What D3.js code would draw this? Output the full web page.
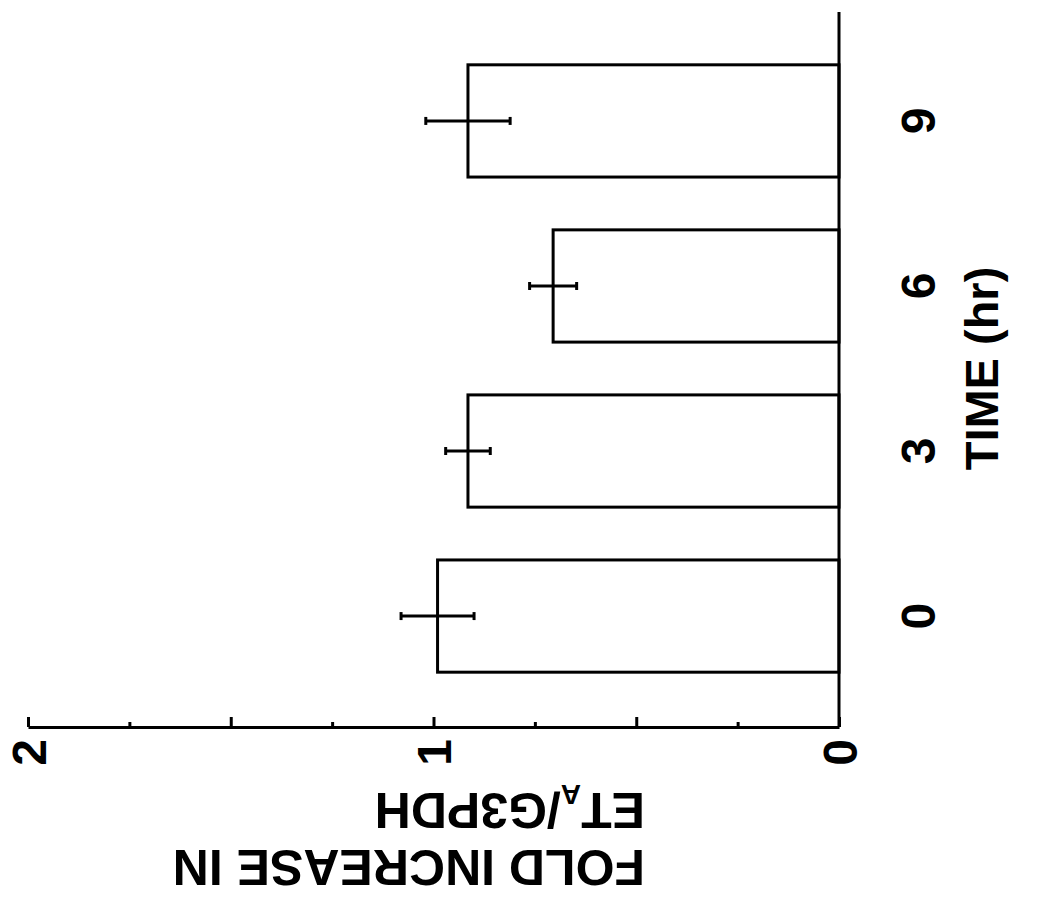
<!DOCTYPE html>
<html>
<head>
<meta charset="utf-8">
<script src="https://cdn.jsdelivr.net/npm/d3@7"></script>
<style>
  body { margin: 0; background: white; }
  text { font-family: "Liberation Sans", Arial, sans-serif; font-weight: bold; }
</style>
</head>
<body>
<div id="vis"></div>
<script>
const categories = ["0", "3", "6", "9"];
const foldValues = [0.99, 0.915, 0.705, 0.915];
const errValues = [0.09, 0.055, 0.058, 0.104];
const majorTicks = [0, 0.5, 1, 1.5, 2];
const minorTicks = [0.25, 0.75, 1.25, 1.75];

// the figure is printed turned on its side: value axis runs right-to-left along the bottom
function createChart() {
  const width = 1052;
  const height = 900;

  const svg = d3.select("#vis")
    .append("svg")
    .attr("width", width)
    .attr("height", height);

  let x = d3.scaleLinear()
    .domain([0, 2])
    .range([839, 28]);

  let y = d3.scaleBand()
    .domain(categories)
    .range([725, 12])
    .padding(0.32);

  let data = categories.map((c, i) => ({ cat: c, value: foldValues[i], err: errValues[i] }));

  // bars
  svg.selectAll(".bar")
    .data(data)
    .join("rect")
    .attr("class", "bar")
    .attr("x", d => x(d.value))
    .attr("y", d => y(d.cat))
    .attr("width", d => x(0) - x(d.value))
    .attr("height", y.bandwidth())
    .attr("fill", "white")
    .attr("stroke", "black")
    .attr("stroke-width", 3);

  // error bars
  let cap = 4;
  let errG = svg.selectAll(".err")
    .data(data)
    .join("g")
    .attr("class", "err")
    .attr("stroke", "black")
    .attr("stroke-width", 3);
  errG.append("line")
    .attr("x1", d => x(d.value - d.err))
    .attr("x2", d => x(d.value + d.err))
    .attr("y1", d => y(d.cat) + y.bandwidth() / 2)
    .attr("y2", d => y(d.cat) + y.bandwidth() / 2);
  errG.append("line")
    .attr("x1", d => x(d.value - d.err))
    .attr("x2", d => x(d.value - d.err))
    .attr("y1", d => y(d.cat) + y.bandwidth() / 2 - cap)
    .attr("y2", d => y(d.cat) + y.bandwidth() / 2 + cap);
  errG.append("line")
    .attr("x1", d => x(d.value + d.err))
    .attr("x2", d => x(d.value + d.err))
    .attr("y1", d => y(d.cat) + y.bandwidth() / 2 - cap)
    .attr("y2", d => y(d.cat) + y.bandwidth() / 2 + cap);

  // value axis (bottom)
  let axisY = 727;
  svg.append("g")
    .attr("transform", "translate(0," + axisY + ")")
    .call(d3.axisBottom(x).tickValues(minorTicks).tickSize(-5).tickFormat(""))
    .call(g => g.select(".domain").remove())
    .selectAll("line").attr("stroke-width", 3);

  let xAxis = svg.append("g")
    .attr("transform", "translate(0," + axisY + ")")
    .call(d3.axisBottom(x)
      .tickValues(majorTicks)
      .tickSizeInner(-10)
      .tickSizeOuter(0)
      .tickFormat(d => Number.isInteger(d) ? d : ""));
  xAxis.select(".domain").attr("stroke-width", 3);
  xAxis.selectAll("line").attr("stroke-width", 3);
  xAxis.selectAll("text")
    .attr("y", 0)
    .attr("dy", "0.36em")
    .attr("transform", "translate(0,12) rotate(-90)")
    .style("text-anchor", "end")
    .style("font-size", "48px")
    .attr("fill", "black");

  // category axis (right)
  let yAxis = svg.append("g")
    .attr("transform", "translate(839,0)")
    .call(d3.axisRight(y).tickSize(0));
  yAxis.select(".domain")
    .attr("d", "M0,12V727")
    .attr("stroke-width", 3);
  yAxis.selectAll("text")
    .attr("x", 0)
    .attr("dy", 0)
    .attr("transform", "translate(96,0) rotate(-90)")
    .style("text-anchor", "middle")
    .style("font-size", "48px")
    .attr("fill", "black");

  // axis titles
  svg.append("text")
    .attr("transform", "translate(998," + (y.range()[0] + y.range()[1]) / 2 + ") rotate(-90)")
    .style("text-anchor", "middle")
    .style("font-size", "47px")
    .text("TIME (hr)");

  let title = svg.append("g")
    .attr("transform", "translate(645,793) rotate(180)")
    .style("font-size", "50px");
  let line2 = title.append("text")
    .attr("x", 0)
    .attr("y", 0);
  line2.append("tspan").text("ET");
  line2.append("tspan").attr("dy", 8).style("font-size", "28px").text("A");
  line2.append("tspan").attr("dy", -8).text("/G3PDH");
  title.append("text")
    .attr("x", 0)
    .attr("y", -57)
    .text("FOLD INCREASE IN");
}

createChart();
</script>
</body>
</html>
